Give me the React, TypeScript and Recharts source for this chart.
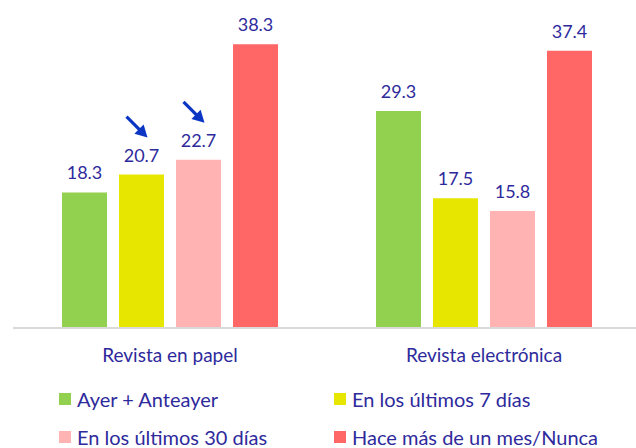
import React from 'react';
import { BarChart, Bar, XAxis, YAxis, LabelList } from 'recharts';

const categories = ['Revista en papel', 'Revista electrónica'];
const seriesNames = ['Ayer + Anteayer', 'En los últimos 7 días', 'En los últimos 30 días', 'Hace más de un mes/Nunca'];
const ayerAnteayer = [18.3, 29.3];
const ultimos7 = [20.7, 17.5];
const ultimos30 = [22.7, 15.8];
const haceMas = [38.3, 37.4];
// category indexes that get a "down" arrow above the bar, per series
const arrowCats = [[], [0], [0], []];

const COLORS = ['#92D050', '#E6E600', '#FFB3B3', '#FF6666'];
const TEXT = '#2E2A9C';
const ARROW = '#0B36C4';
const FONT = 'Lato, "Open Sans", sans-serif';

const seriesValues = [ayerAnteayer, ultimos7, ultimos30, haceMas];
const data = categories.map((name, i) => {
  const row: Record<string, any> = { name };
  seriesValues.forEach((vals, s) => { row['s' + s] = vals[i]; });
  return row;
});

const makeArrow = (cats: number[]) => (props: any) => {
  const { x, y, width, index } = props;
  if (!cats.includes(index)) return null;
  const cx = Number(x) + Number(width) / 2;
  const top = Number(y);
  const tx = cx + 6, ty = top - 37;
  const sx = cx - 15, sy = top - 58;
  const dx = tx - sx, dy = ty - sy;
  const len = Math.sqrt(dx * dx + dy * dy);
  const ux = dx / len, uy = dy / len;
  const hl = 12, hw = 6.5;
  const bx = tx - ux * hl, by = ty - uy * hl;
  return (
    <g>
      <line x1={sx} y1={sy} x2={bx + ux} y2={by + uy} stroke={ARROW} strokeWidth={3.2} />
      <polygon
        points={`${tx},${ty} ${bx - uy * hw},${by + ux * hw} ${bx + uy * hw},${by - ux * hw}`}
        fill={ARROW}
      />
    </g>
  );
};

export default function App() {
  return (
    <div style={{ position: 'absolute', left: 0, top: 0, width: 636, height: 448, overflow: 'hidden', background: '#fff', fontFamily: FONT }}>
      <BarChart
        width={642}
        height={448}
        data={data}
        margin={{ top: 31.6, right: 1, left: 13, bottom: 80 }}
        barSize={45}
        barGap={12}
      >
        <XAxis
          dataKey="name"
          axisLine={{ stroke: '#D9D9D9', strokeWidth: 2 }}
          tickLine={false}
          tickSize={0}
          tickMargin={21}
          height={40}
          tick={{ fill: TEXT, fontSize: 19, fontFamily: FONT }}
        />
        <YAxis hide domain={[0, 40]} />
        {seriesNames.map((n, s) => (
          <Bar key={n} dataKey={'s' + s} name={n} fill={COLORS[s]} isAnimationActive={false}>
            <LabelList
              dataKey={'s' + s}
              position="top"
              offset={13}
              fill={TEXT}
              fontSize={18}
              fontFamily={FONT}
              formatter={(v: any) => Number(v).toFixed(1)}
            />
            {arrowCats[s].length > 0 && (
              <LabelList dataKey={'s' + s} content={makeArrow(arrowCats[s])} />
            )}
          </Bar>
        ))}
      </BarChart>
      {seriesNames.map((n, s) => (
        <div
          key={n}
          style={{
            position: 'absolute',
            left: s % 2 === 0 ? 59 : 334,
            top: s < 2 ? 387 : 425,
            height: 24,
            display: 'flex',
            alignItems: 'center',
            color: TEXT,
            fontSize: 20,
            whiteSpace: 'nowrap',
          }}
        >
          <span style={{ display: 'inline-block', width: 12, height: 12, background: COLORS[s], marginRight: 6 }} />
          {n}
        </div>
      ))}
    </div>
  );
}
